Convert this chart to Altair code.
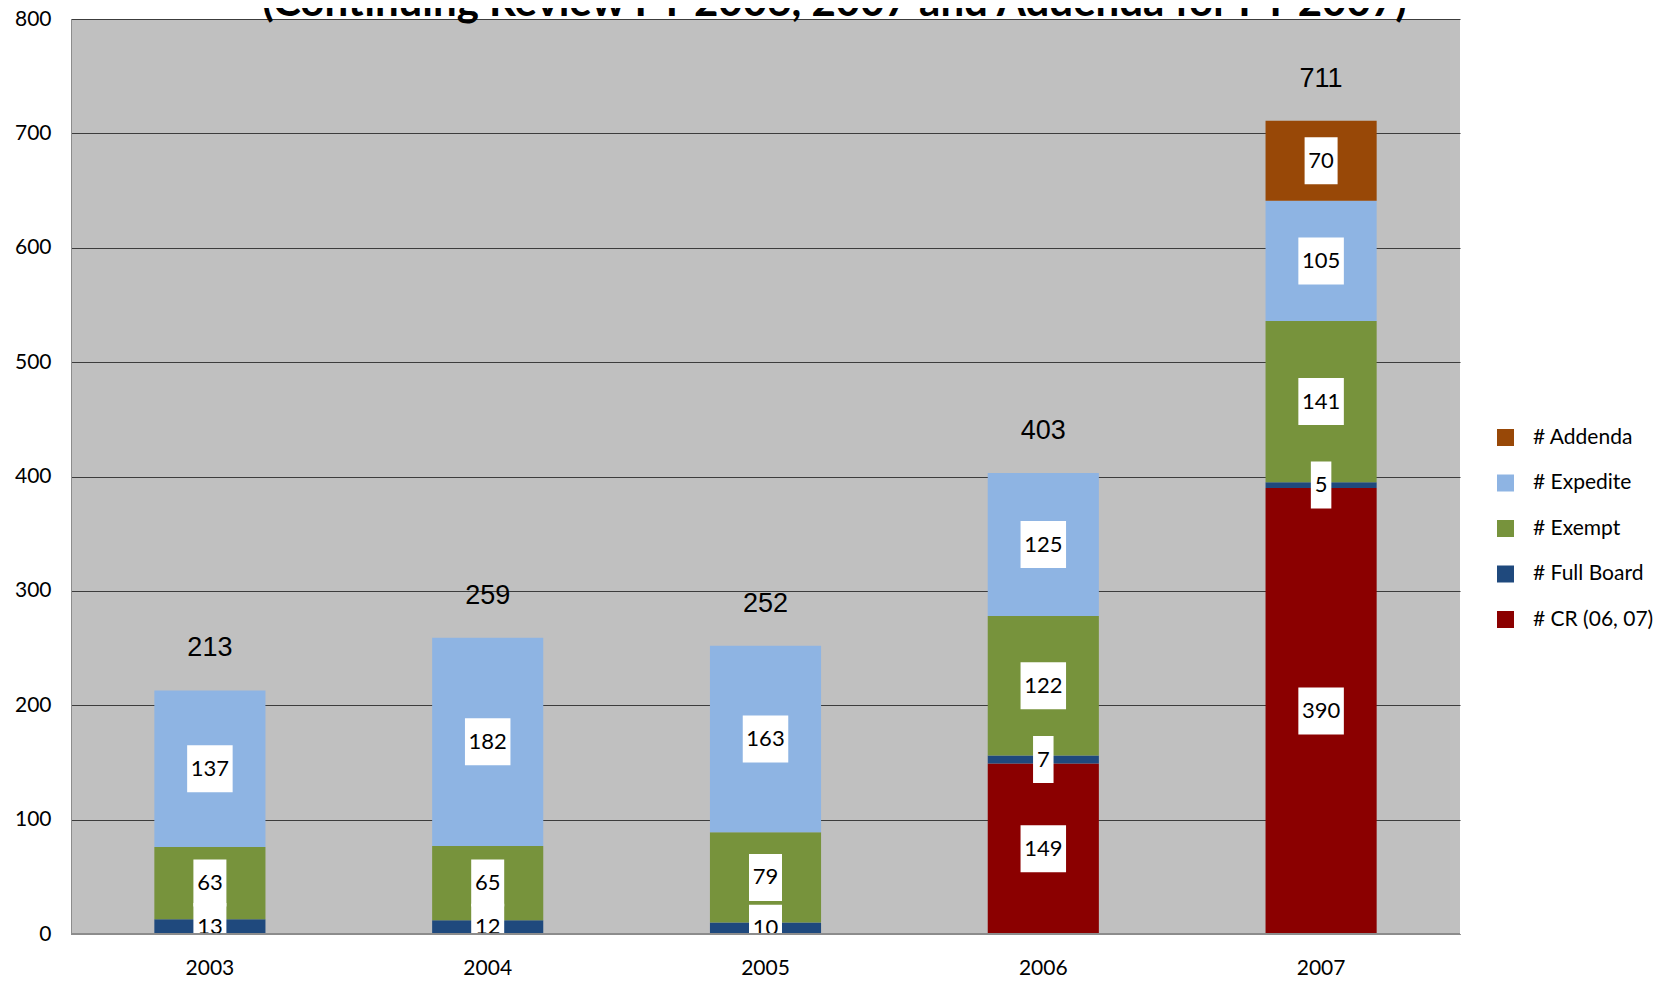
import altair as alt
import pandas as pd

years = ["2003", "2004", "2005", "2006", "2007"]
series = ["# CR (06, 07)", "# Full Board", "# Exempt", "# Expedite", "# Addenda"]
cr = [0, 0, 0, 149, 390]
full_board = [13, 12, 10, 7, 5]
exempt = [63, 65, 79, 122, 141]
expedite = [137, 182, 163, 125, 105]
addenda = [0, 0, 0, 0, 70]
legend_order = ["# Addenda", "# Expedite", "# Exempt", "# Full Board", "# CR (06, 07)"]
colors = ["#984807", "#8EB4E3", "#77933C", "#1F497D", "#8B0000"]
title_text = "(Continuing Review FY 2006, 2007 and Addenda for FY 2007)"
y_ticks = [0, 100, 200, 300, 400, 500, 600, 700, 800]

rows = []
for k, (name, vals) in enumerate(zip(series, [cr, full_board, exempt, expedite, addenda])):
    for yr, v in zip(years, vals):
        if v > 0:
            rows.append({"year": yr, "series": name, "value": v, "order": k})
df = pd.DataFrame(rows)

W, H = 1389, 915
half_box = 47 / 2 / (H / 800)  # label box half height in axis units

xenc = alt.X(
    "year:N",
    scale=alt.Scale(paddingInner=0.6, paddingOuter=0.3),
    axis=alt.Axis(title=None, labelAngle=0, ticks=False, labelFont="Lato", labelFontSize=21,
                  labelColor="black", labelPadding=23, domainColor="#8c8c8c", grid=False),
)
yscale = alt.Scale(domain=[0, 800], nice=False)

base = alt.Chart(df).transform_stack(
    stack="value", groupby=["year"], as_=["y0", "y1"], sort=[alt.SortField("order")]
).transform_calculate(
    mid="(datum.y0 + datum.y1) / 2",
    lo=f"(datum.y0 + datum.y1) / 2 - {half_box}",
    hi=f"(datum.y0 + datum.y1) / 2 + {half_box}",
    w="length(toString(datum.value)) * 12.5 + 8",
)

bars = base.mark_bar().encode(
    x=xenc,
    y=alt.Y("y0:Q", scale=yscale,
            axis=alt.Axis(title=None, values=y_ticks, ticks=False, labelFont="Lato", labelFontSize=21,
                          labelColor="black", labelPadding=20, domainColor="#8c8c8c",
                          gridColor="#3c3c3c", gridWidth=1.2)),
    y2="y1:Q",
    color=alt.Color("series:N", scale=alt.Scale(domain=legend_order, range=colors),
                    legend=alt.Legend(title=None, orient="none", legendX=1424, legendY=408,
                                      symbolType="square", symbolSize=289, symbolStrokeWidth=0,
                                      labelFont="Lato", labelFontSize=21, labelColor="black",
                                      labelOffset=17, rowPadding=23.5, padding=0)),
)

boxes = base.mark_bar(color="white", clip=True).encode(
    x=xenc, y=alt.Y("lo:Q", scale=yscale), y2="hi:Q",
    size=alt.Size("w:Q", scale=None, legend=None),
)

labels = base.mark_text(font="Lato", fontSize=22, color="black", baseline="middle").encode(
    x=xenc, y=alt.Y("mid:Q", scale=yscale), text="value:Q"
)

totals = alt.Chart(df).mark_text(font="Liberation Sans", fontSize=27, color="black",
                                 baseline="middle", dy=-42).encode(
    x=xenc, y=alt.Y("sum(value):Q", scale=yscale), text="sum(value):Q"
)

baseline = alt.Chart(df).mark_rule(color="#8c8c8c", strokeWidth=1.5).encode(y=alt.datum(0))

title = alt.Chart(pd.DataFrame({"t": [title_text]})).mark_text(
    font="Lato", fontWeight="bold", fontSize=42, baseline="alphabetic", align="center", color="black"
).encode(x=alt.value(763.5), y=alt.value(-3), text="t:N")

chart = alt.layer(bars, boxes, labels, totals, baseline, title).properties(
    width=W, height=H,
    autosize=alt.AutoSizeParams(type="none"),
    padding={"left": 63, "top": 11, "right": 200, "bottom": 45},
    background="white",
).configure_view(fill="#C0C0C0", strokeWidth=0)

chart.save("out.html", embed_options={"renderer": "svg", "actions": False})
